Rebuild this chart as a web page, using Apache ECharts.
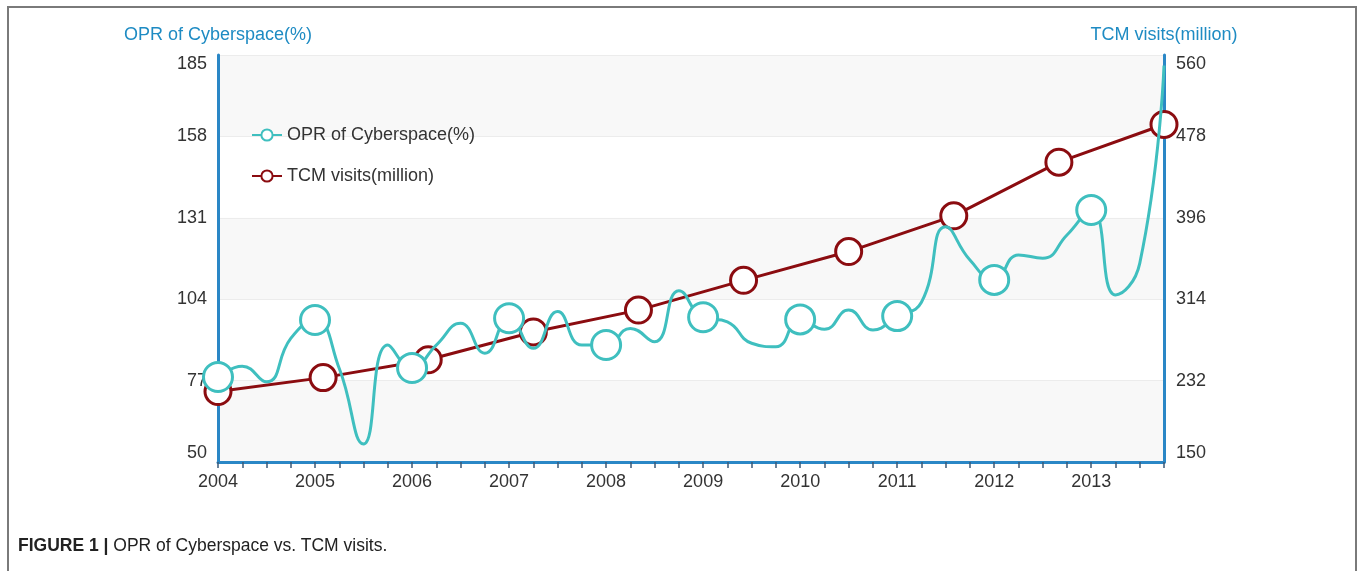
<!DOCTYPE html>
<html>
<head>
<meta charset="utf-8">
<script src="https://cdn.jsdelivr.net/npm/echarts@6/dist/echarts.min.js"></script>
<style>
  html, body { margin: 0; padding: 0; background: #fff; }
  #chart { position: absolute; left: 0; top: 0; width: 1362px; height: 571px; }
  #frame { position: absolute; left: 7px; top: 6px; width: 1346px; height: 600px; border: 2px solid #7a7a7a; pointer-events: none; }
  #caption { position: absolute; left: 18px; top: 535px; font-family: "Liberation Sans", Arial, sans-serif; font-size: 17.5px; color: #222; }
  #caption b { font-weight: bold; }
</style>
</head>
<body>
<div id="chart"></div>
<div id="frame"></div>
<div id="caption"><b>FIGURE 1 |</b> OPR of Cyberspace vs. TCM visits.</div>
<script>
// ---- data ----
const years = ['2004','2005','2006','2007','2008','2009','2010','2011','2012','2013'];
const quarters = [];
years.forEach(y => { for (let q = 1; q <= 4; q++) quarters.push(y + 'Q' + q); });
// OPR of Cyberspace (%), quarterly, left axis
const oprValues = [
  78.2, 81.8, 76.6, 91.0,
  97.1, 81.0, 56.0, 88.8,
  81.2, 88.8, 96.0, 86.1,
  97.7, 87.7, 99.9, 88.8,
  88.8, 94.3, 89.9, 106.8,
  98.0, 96.5, 89.4, 88.2,
  97.3, 94.0, 100.4, 93.8,
  98.4, 103.0, 128.0, 117.0,
  110.4, 118.7, 117.6, 125.3,
  133.6, 105.4, 115.9, 181.5
];
// TCM visits (million), yearly, right axis
const tcmValues = [221, 235, 253, 281, 303, 333, 362, 398, 452, 490];
const leftTicks = { min: 50, max: 185, interval: 27 };
const rightTicks = { min: 150, max: 560, interval: 82 };

const cyan = '#3fbfbf';
const darkRed = '#8b0c10';
const axisBlue = '#2a87c6';
const font = '"Liberation Sans", Arial, sans-serif';

const oprData = oprValues.map((v, i) => (i % 4 === 0) ? { value: v } : { value: v, symbol: 'none' });

const chart = echarts.init(document.getElementById('chart'), null, { renderer: 'canvas' });
chart.setOption({
  animation: false,
  textStyle: { fontFamily: font },
  grid: { left: 218, right: 198, top: 55, bottom: 109 },
  legend: {
    orient: 'vertical',
    left: 246,
    top: 121,
    itemGap: 23,
    itemWidth: 30,
    itemHeight: 14,
    textStyle: { fontSize: 18, color: '#333', fontFamily: font },
    data: ['OPR of Cyberspace(%)', 'TCM visits(million)']
  },
  xAxis: [
    {
      type: 'category',
      data: quarters,
      boundaryGap: false,
      axisLine: { lineStyle: { color: axisBlue, width: 3 } },
      axisTick: { interval: 0, length: 6, lineStyle: { color: '#3b5a78', width: 1.5 } },
      axisLabel: {
        interval: 3, margin: 11, fontSize: 18, color: '#333', fontFamily: font,
        formatter: v => v.substring(0, 4)
      },
      splitLine: { show: false }
    },
    {
      type: 'category',
      data: years,
      boundaryGap: false,
      show: false
    }
  ],
  yAxis: [
    {
      type: 'value',
      position: 'left',
      min: leftTicks.min, max: leftTicks.max, interval: leftTicks.interval,
      name: 'OPR of Cyberspace(%)',
      nameLocation: 'end',
      nameGap: 11,
      nameTextStyle: { color: '#1e8bc3', fontSize: 18, fontFamily: font, align: 'center' },
      axisLine: { show: true, lineStyle: { color: axisBlue, width: 3 } },
      axisTick: { show: false },
      axisLabel: { fontSize: 18, color: '#333', margin: 11, fontFamily: font,
        verticalAlignMaxLabel: 'top', verticalAlignMinLabel: 'bottom' },
      splitLine: { show: true, lineStyle: { color: '#ececec', width: 1 } },
      splitArea: { show: true, areaStyle: { color: ['#f8f8f8', '#ffffff'] } }
    },
    {
      type: 'value',
      position: 'right',
      min: rightTicks.min, max: rightTicks.max, interval: rightTicks.interval,
      name: 'TCM visits(million)',
      nameLocation: 'end',
      nameGap: 11,
      nameTextStyle: { color: '#1e8bc3', fontSize: 18, fontFamily: font, align: 'center' },
      axisLine: { show: true, lineStyle: { color: axisBlue, width: 3 } },
      axisTick: { show: false },
      axisLabel: { fontSize: 18, color: '#333', margin: 12, fontFamily: font,
        verticalAlignMaxLabel: 'top', verticalAlignMinLabel: 'bottom' },
      splitLine: { show: false },
      splitArea: { show: false }
    }
  ],
  series: [
    {
      name: 'OPR of Cyberspace(%)',
      type: 'line',
      xAxisIndex: 0,
      yAxisIndex: 0,
      data: oprData,
      smooth: 0.5,
      symbol: 'circle',
      symbolSize: 29,
      showAllSymbol: true,
      lineStyle: { color: cyan, width: 3 },
      itemStyle: { color: '#ffffff', borderColor: cyan, borderWidth: 3 },
      z: 3
    },
    {
      name: 'TCM visits(million)',
      type: 'line',
      xAxisIndex: 1,
      yAxisIndex: 1,
      data: tcmValues,
      smooth: false,
      symbol: 'circle',
      symbolSize: 26,
      showAllSymbol: true,
      lineStyle: { color: darkRed, width: 3 },
      itemStyle: { color: '#ffffff', borderColor: darkRed, borderWidth: 3 },
      z: 2
    }
  ]
});
</script>
</body>
</html>
